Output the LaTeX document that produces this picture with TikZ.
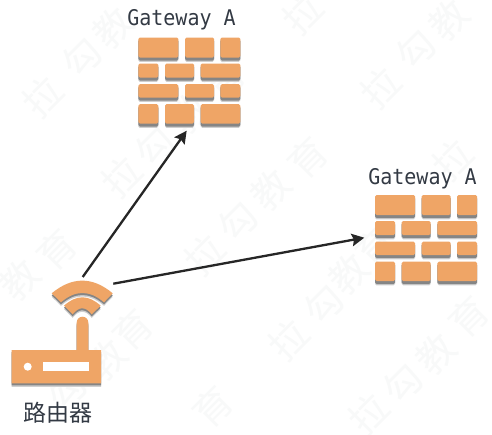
\documentclass[tikz,border=0pt]{standalone}
\usepackage{fontspec}
\usetikzlibrary{arrows.meta}
\setmonofont{DejaVu Sans Mono}
\newfontfamily\cjk{Noto Sans CJK SC}
\definecolor{brickc}{HTML}{EFA566}
\definecolor{shadec}{HTML}{858585}
\definecolor{shadeb}{HTML}{CFCFCF}
\definecolor{inkc}{HTML}{333A44}
\definecolor{arrowc}{HTML}{262626}
\definecolor{markc}{HTML}{F8F9F9}
\tikzset{
  gwlabel/.style={font=\ttfamily\fontsize{20}{20}\selectfont,text=inkc,inner sep=0pt,anchor=base,yscale=1.08},
  routerlabel/.style={font=\cjk\fontsize{23}{23}\selectfont,text=inkc,inner sep=0pt},
  wm/.style={font=\cjk\fontsize{38}{38}\selectfont,text=markc,rotate=45,inner sep=0pt},
  link/.style={draw=arrowc,line width=2.3pt,-{Stealth[length=12.5pt,width=12.5pt,inset=2pt]}},
  iconfill/.style={fill=brickc,draw=none},
}
\newcommand{\brickat}[4]{%
  \fill[shadeb,rounded corners=1.5pt] (#1,#2+2) rectangle (#3,#4+4.4);
  \fill[shadec,rounded corners=1.5pt] (#1,#2+2) rectangle (#3,#4+3);
  \fill[iconfill,rounded corners=1.5pt] (#1,#2) rectangle (#3,#4);
}
\newcommand{\wallat}[2]{%
  \begin{scope}[shift={(#1,#2)}]
    \brickat{0}{0}{40}{20}\brickat{46.7}{0}{75.7}{20}\brickat{82}{0}{102}{20}
    \brickat{0}{26}{20}{40}\brickat{26.7}{26}{55.7}{40}\brickat{62.4}{26}{102}{40}
    \brickat{0}{46.7}{40}{60}\brickat{46.7}{46.7}{75.7}{60}\brickat{82}{46.7}{102}{60}
    \brickat{0}{66.7}{20}{86}\brickat{26.7}{66.7}{55.7}{86}\brickat{62.4}{66.7}{102}{86}
  \end{scope}
}
\newcommand{\routershape}{%
  (51.7,293.3) .. controls (72.1,276.4) and (92.5,276.4) .. (112.7,293.3) -- (104,302.3)
    .. controls (89.5,289.9) and (75.3,289.9) .. (61,302.3) -- cycle
  (64,305.7) .. controls (76.2,294.5) and (88.4,294.5) .. (100.7,305.7) -- (91.7,314.3)
    .. controls (85.4,306.3) and (79,306.3) .. (72.7,314.3) -- cycle
  (11.7,350) -- (76.7,350) -- (76.7,322.5) arc[start angle=180,end angle=360,radius=5.8]
    -- (88.3,350) -- (101,350) -- (101,383.3) -- (11.7,383.3) -- cycle
}
\begin{document}
\begin{tikzpicture}[x=1pt,y=-1pt]
\useasboundingbox (0,0) rectangle (492,434);
\fill[white] (0,0) rectangle (492,434);
% watermark
\foreach \n/\c/\xx/\yy in {
  a/拉/43/97, b/勾/82/58, c/教/113/28,
  e/拉/122/177, f/勾/155/147, g/教/190/113, h/育/225/80,
  i/拉/303/14,
  j/拉/381/88, k/勾/416/50, l/教/449/20,
  m/拉/205/255, n/勾/238/222, o/教/271/190, p/育/308/158,
  r/教/20/280, s/育/57/250,
  u/勾/67/390, v/教/107/360, w/育/133/330,
  y/育/213/407,
  z/拉/289/340, aa/勾/324/305, ab/教/349/274, ac/育/376/247,
  ad/拉/369/414, ae/勾/403/384, af/教/436/354, ag/育/469/317,
  ah/拉/453/160}
  {\node[wm] (wm\n) at (\xx,\yy) {\c};}
% gateways
\node[gwlabel] (gwa) at (181.5,25.5) {Gateway A};
\node[gwlabel] (gwb) at (422.5,184.5) {Gateway A};
\wallat{138.3}{37.5}
\wallat{375}{195}
% router
\fill[shadeb,shift={(0,3.5)}] \routershape;
\fill[shadec,shift={(0,2)}] \routershape;
\fill[iconfill] \routershape;
\fill[white] (42.7,361.7) rectangle (89.3,371);
\fill[white] (27.7,366.7) circle[radius=4];
\node[routerlabel] (rl) at (57.5,413) {路由器};
% connectors
\coordinate (ra) at (82.7,277);
\coordinate (rb) at (113.3,283.7);
\coordinate (ga) at (186.7,130.7);
\coordinate (gb) at (364.3,237.7);
\draw[link] (ra) -- (ga);
\draw[link] (rb) -- (gb);
\end{tikzpicture}
\end{document}
